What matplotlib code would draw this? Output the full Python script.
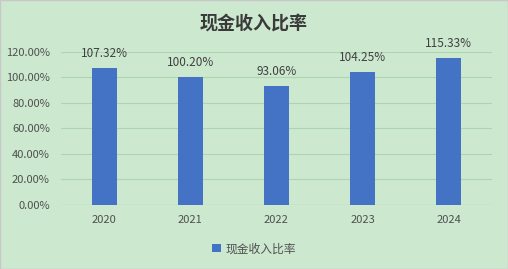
import matplotlib
matplotlib.use("Agg")
import matplotlib.pyplot as plt
from matplotlib.patches import Rectangle
from matplotlib.ticker import FuncFormatter

plt.rcParams['font.family'] = ['Noto Sans CJK SC', 'DejaVu Sans']

years = ["2020", "2021", "2022", "2023", "2024"]
ratio = [107.32, 100.20, 93.06, 104.25, 115.33]
series_name = "现金收入比率"
title = "现金收入比率"

BG, BAR, TXT, GRID = "#cce8cf", "#4472c4", "#505050", "#add5b0"

fig = plt.figure(figsize=(5.08, 2.69), dpi=100)
fig.patch.set_facecolor(BG)
fig.patches.append(Rectangle((0, 0), 1, 1, transform=fig.transFigure, fill=False,
                             edgecolor="#c8c8c8", linewidth=1.0))

ax = fig.add_axes([0.120, 0.238, 0.8485, 0.5688])
ax.set_facecolor(BG)
x = range(len(years))
bars = ax.bar(x, ratio, width=0.29, color=BAR, label=series_name, zorder=3)
for b, v in zip(bars, ratio):
    ax.text(b.get_x() + b.get_width() / 2, v + 6.5, f"{v:.2f}%", ha="center", va="bottom",
            fontsize=8.5, color="#404040", clip_on=False)

ax.set_xlim(-0.5, len(years) - 0.5)
ax.set_ylim(0, 120)
ax.set_yticks(range(0, 121, 20))
ax.yaxis.set_major_formatter(FuncFormatter(lambda v, p: f"{v:.2f}%"))
ax.set_xticks(list(x))
ax.set_xticklabels(years)
ax.tick_params(length=0, labelsize=8, colors=TXT, pad=7)
ax.tick_params(axis="y", pad=8)
ax.grid(axis="y", color=GRID, linewidth=0.8, zorder=0)
for s in ax.spines.values():
    s.set_visible(False)
ax.axhline(0, color=GRID, linewidth=0.8, zorder=2)

fig.text(0.5, 0.915, title, ha="center", va="center", fontsize=13, weight="bold", color="#3a3a3a")
fig.legend(loc="center", bbox_to_anchor=(0.5, 0.075), frameon=False, fontsize=8.5,
           handlelength=0.7, handleheight=0.7, handletextpad=0.4, labelcolor=TXT)

fig.savefig("out.png", dpi=100, facecolor=BG)
